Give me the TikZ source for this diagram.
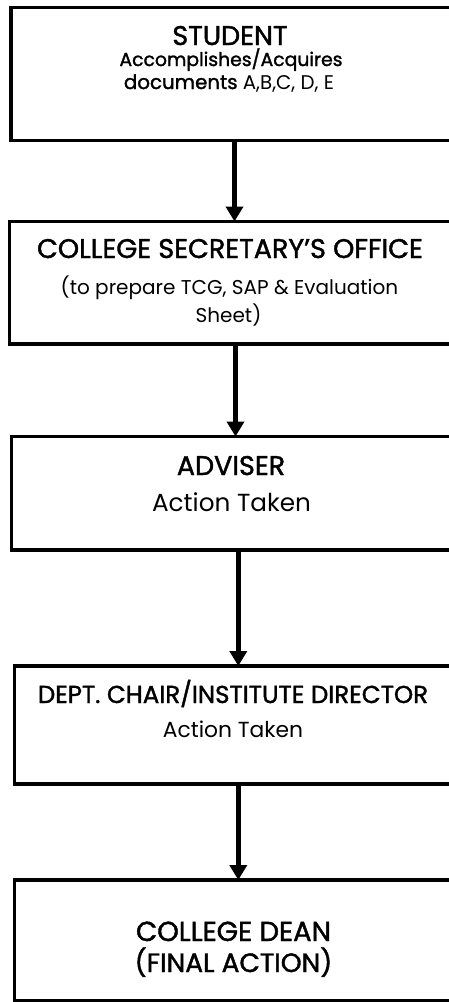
\documentclass[tikz,border=0pt]{standalone}
\usepackage{fontspec}
\setmainfont{Poppins}
\newfontfamily\medfont{Poppins}[FakeBold=1.5]
\usetikzlibrary{arrows.meta}
\newcommand{\fs}[1]{\fontsize{#1}{#1}\selectfont}
\begin{document}
\begin{tikzpicture}[x=1pt,y=-1pt,
  box/.style={draw, line width=3.3pt, rectangle, inner sep=0pt, outer sep=0pt, anchor=north west},
  arr/.style={line width=4.5pt, -{Triangle[width=17pt,length=15pt]}},
  ttl/.style={anchor=base, inner sep=0pt, font=\medfont\fs{27}},
  body/.style={anchor=base, inner sep=0pt},
]
\useasboundingbox (0,0) rectangle (449,1002);
\clip (0,0) rectangle (449,1002);
% boxes
\node[box, minimum width=447pt, minimum height=133pt] (b1) at (11,7.5) {};
\node[box, minimum width=452.5pt, minimum height=122.5pt] (b2) at (9.5,221.5) {};
\node[box, minimum width=453.5pt, minimum height=113.5pt] (b3) at (11.5,436.5) {};
\node[box, minimum width=447.5pt, minimum height=118pt] (b4) at (14.5,666) {};
\node[box, minimum width=447.5pt, minimum height=120.5pt] (b5) at (14.5,880) {};
% texts
\node[ttl] (t1) at (230,45) {STUDENT};
\node[body, font=\medfont\fs{18.8}] (t1b) at (231,66) {Accomplishes/Acquires};
\node[body, font=\fs{19.8}] (t1c) at (229,89) {{\medfont documents} A,B,C, D, E};
\node[ttl] (t2) at (230,258) {COLLEGE SECRETARY’S OFFICE};
\node[body, font=\fs{20}] (t2b) at (229.5,294) {(to prepare TCG, SAP \& Evaluation};
\node[body, font=\fs{20}] (t2c) at (228.5,322) {Sheet)};
\node[ttl] (t3) at (231,475) {ADVISER};
\node[body, font=\fs{24.7}] (t3b) at (231.5,511) {Action Taken};
\node[ttl, font=\medfont\fs{24.5}] (t4) at (233,703) {DEPT. CHAIR/INSTITUTE DIRECTOR};
\node[body, font=\fs{21.8}] (t4b) at (233,737) {Action Taken};
\node[ttl, font=\medfont\fs{27.5}] (t5) at (233.5,941) {COLLEGE DEAN};
\node[ttl, font=\medfont\fs{26.5}] (t5b) at (233.5,972) {(FINAL ACTION)};
% arrows
\coordinate (x1) at (234.5,0);
\coordinate (x2) at (235.5,0);
\coordinate (x3) at (238.3,0);
\draw[arr] (b1.south -| x1) -- (b2.north -| x1);
\draw[arr] (b2.south -| x2) -- (b3.north -| x2);
\draw[arr] (b3.south -| x3) -- (b4.north -| x3);
\draw[arr] (b4.south -| x3) -- (b5.north -| x3);
\end{tikzpicture}
\end{document}
